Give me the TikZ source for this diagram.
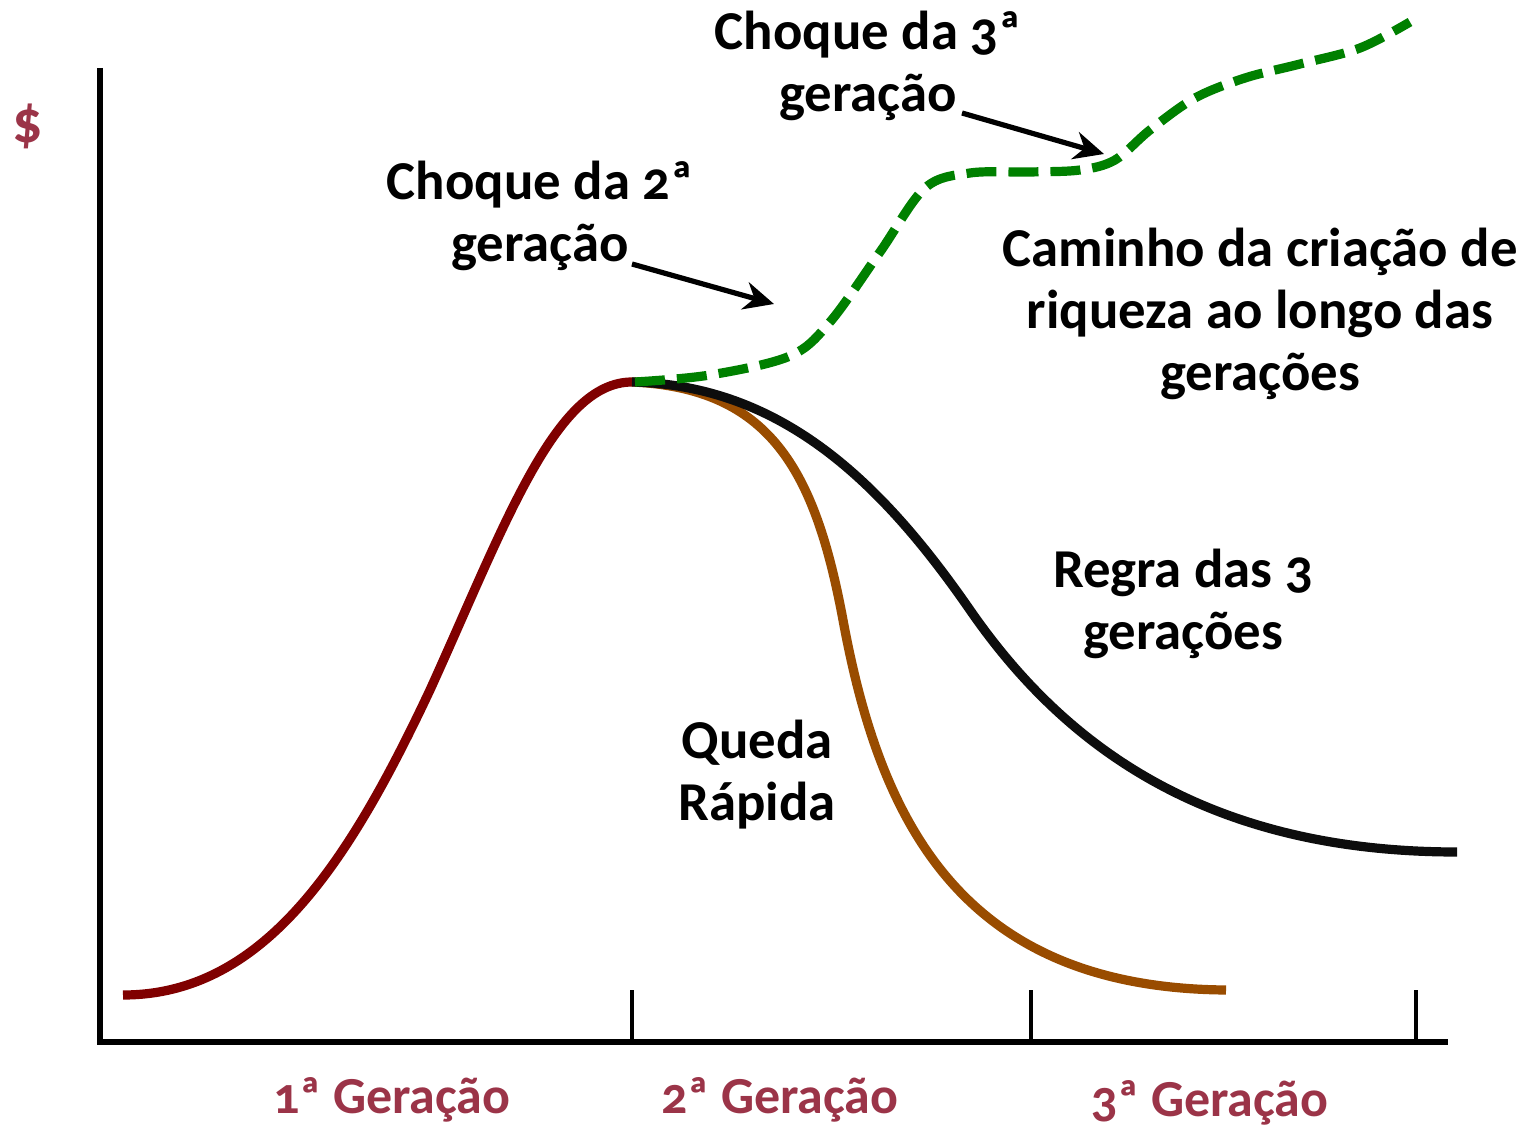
\documentclass[tikz,border=0pt]{standalone}
\usepackage{fontspec}
\setmainfont{Carlito}[Numbers=OldStyle]
\usetikzlibrary{arrows.meta}
\definecolor{axred}{RGB}{155,52,72}
\definecolor{gen1}{RGB}{128,0,0}
\definecolor{gen2}{RGB}{153,76,0}
\definecolor{gpath}{RGB}{0,128,0}
\tikzset{
  lbl/.style={font=\bfseries\fontsize{27.4}{31}\selectfont, align=center, text=black, inner sep=0pt},
  axlbl/.style={font=\bfseries\fontsize{26}{30}\selectfont, text=axred, inner sep=0pt},
  axis/.style={line width=2.6pt},
  tick/.style={line width=2pt},
  curve/.style={line width=4.6pt},
  arr/.style={line width=2.6pt, -{Stealth[length=15pt,width=14pt]}},
}
\begin{document}
\begin{tikzpicture}[x=0.5pt,y=-0.5pt]
\useasboundingbox (0,0) rectangle (1522,1129);
% axes
\coordinate (o) at (100,1042);
\coordinate (ytop) at (100,68);
\coordinate (xend) at (1448,1042);
\draw[axis] (ytop) -- (o) -- (xend);
\foreach \x/\n in {632/t1,1031/t2,1416/t3}{
  \coordinate (\n a) at (\x,990);
  \coordinate (\n b) at (\x,1041);
  \draw[tick] (\n a) -- (\n b);
}
% curves
\coordinate (peak) at (632,382);
\coordinate (s1) at (123,995);
\coordinate (m1) at (430,690);
\draw[curve,gen1] (s1) .. controls (265,995) and (350,860) .. (m1) .. controls (505,525) and (555,382) .. (peak);
\coordinate (bm) at (843,620);
\coordinate (be) at (1226,990);
\draw[curve,gen2] (peak) .. controls (770,388) and (815,470) .. (bm) .. controls (880,820) and (960,988) .. (be);
\coordinate (km) at (970,610);
\coordinate (ke) at (1457,852);
\draw[curve,black!95] (peak) .. controls (780,385) and (880,480) .. (km) .. controls (1060,740) and (1200,852) .. (ke);
\draw[curve,gpath,dash pattern=on 15pt off 6pt] plot[smooth,tension=0.55] coordinates {(635,382) (710,375) (790,356) (830,322) (880,252) (925,188) (970,173) (1030,172) (1080,170) (1115,160) (1150,130) (1195,98) (1245,78) (1300,64) (1360,48) (1410,22)};
% texts
\node[axlbl,font=\bfseries\fontsize{30}{30}\selectfont] (dollar) at (28,126) {\$};
\node[lbl] (c3) at (868,66) {Choque da 3ª\\geração};
\node[lbl] (c2) at (540,216) {Choque da 2ª\\geração};
\node[lbl] (cam) at (1260,314) {Caminho da criação de\\riqueza ao longo das\\gerações};
\node[lbl] (regra) at (1183,604) {Regra das 3\\gerações};
\node[lbl] (queda) at (757,775) {Queda\\Rápida};
\node[axlbl] (g1) at (392,1100) {1ª Geração};
\node[axlbl] (g2) at (780,1100) {2ª Geração};
\node[axlbl] (g3) at (1210,1103) {3ª Geração};
% arrows
\coordinate (a2s) at (632,264);
\coordinate (a2e) at (774,304);
\coordinate (a3s) at (962,113);
\coordinate (a3e) at (1104,154);
\draw[arr] (a2s) -- (a2e);
\draw[arr] (a3s) -- (a3e);
\end{tikzpicture}
\end{document}
